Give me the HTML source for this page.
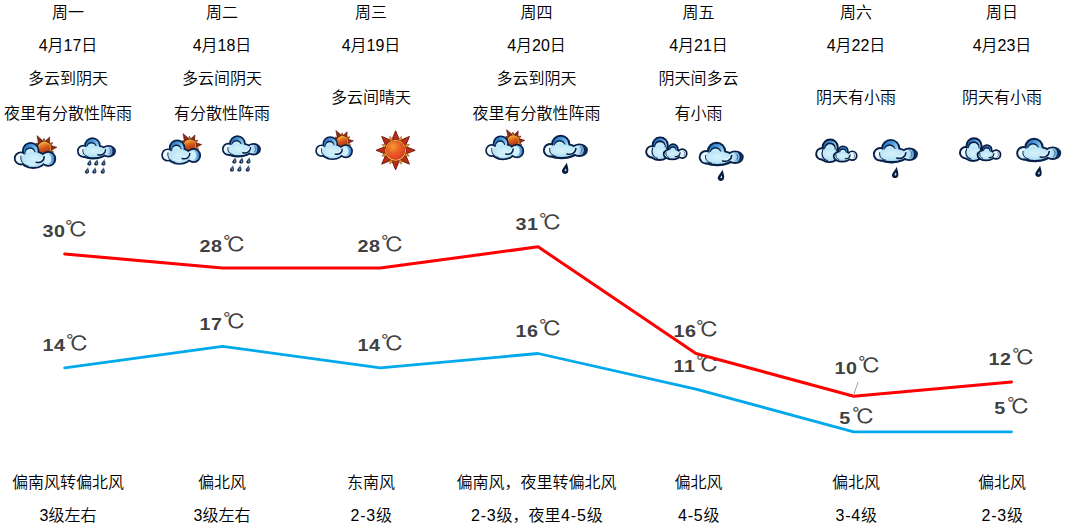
<!DOCTYPE html>
<html lang="zh-CN">
<head>
<meta charset="utf-8">
<title>一周天气预报</title>
<style>
html,body{margin:0;padding:0;background:#fff;}
body{width:1067px;height:530px;position:relative;overflow:hidden;font-family:"Liberation Sans","Noto Sans CJK SC",sans-serif;color:#000;}
.t{position:absolute;width:200px;height:24px;line-height:24px;font-size:16px;font-weight:350;text-align:center;white-space:nowrap;}
.n{letter-spacing:.8px;margin-left:.6px;}
.lb{position:absolute;width:100px;height:30px;line-height:30px;text-align:center;white-space:nowrap;color:#404040;}
.lb b{font-family:"Liberation Sans",sans-serif;font-weight:bold;font-size:17px;letter-spacing:.6px;display:inline-block;transform:scaleX(1.16);margin:0 1.8px 0 1.6px;}
.lb i{font-style:normal;font-family:"Liberation Sans","IPAGothic",sans-serif;font-size:20.5px;font-weight:normal;position:relative;top:-.2px;display:inline-block;transform:scaleX(1.12);transform-origin:0 50%;margin-right:2.2px;}
svg{position:absolute;left:0;top:0;z-index:2;}
</style>
</head>
<body>
<svg width="1067" height="530" viewBox="0 0 1067 530">
<defs>
<linearGradient id="tb" x1="0" y1="0" x2="1" y2=".5">
  <stop offset="0" stop-color="#1f6dbb"/><stop offset=".5" stop-color="#4a98d8"/><stop offset="1" stop-color="#a4d8f2"/>
</linearGradient>
<linearGradient id="sg2" x1=".3" y1="0" x2=".7" y2="1">
  <stop offset="0" stop-color="#f4ae30"/><stop offset=".4" stop-color="#dc5a1e"/><stop offset="1" stop-color="#9a2812"/>
</linearGradient>
<linearGradient id="rl" x1="1" y1="0" x2="0" y2="0">
  <stop offset="0" stop-color="#2e7fcc"/><stop offset=".45" stop-color="#a9d6f2"/><stop offset="1" stop-color="#f4fbfe"/>
</linearGradient>
<linearGradient id="sdg" x1="0" y1="0" x2="0" y2="1"><stop offset="0" stop-color="#8fa9c4"/><stop offset=".45" stop-color="#28486e"/><stop offset="1" stop-color="#071c3c"/></linearGradient>
<radialGradient id="bd" cx=".5" cy=".45" r=".6">
  <stop offset="0" stop-color="#d6f1fb"/><stop offset=".6" stop-color="#bfe8f7"/><stop offset="1" stop-color="#a8dcf2"/>
</radialGradient>
<radialGradient id="sg" cx=".36" cy=".30" r=".8">
  <stop offset="0" stop-color="#f59c2c"/><stop offset=".5" stop-color="#ea5a28"/><stop offset="1" stop-color="#e03322"/>
</radialGradient>

<!-- rain-type cloud, outer size 45 x 24.5 -->
<g id="cloudB">
  <g fill="#07204a" stroke="#07204a" stroke-width="3.8">
    <ellipse cx="36.4" cy="15.4" rx="6.7" ry="4.9"/>
    <circle cx="17.8" cy="9.6" r="7.7"/>
    <circle cx="7.2" cy="15.4" r="5.3"/>
    <ellipse cx="18.6" cy="16.1" rx="15" ry="6.5"/>
  </g>
  <ellipse cx="36.4" cy="15.4" rx="6.7" ry="4.9" fill="url(#rl)"/>
  <path d="M38.6 10.8 C44.6 12.4 44.6 18.4 38.6 20 C42 17.8 42 13 38.6 10.8 Z" fill="#07204a"/>
  <path d="M36.8 11.6 C39.6 13.2 39.6 17.4 36.6 19.2" fill="none" stroke="#07204a" stroke-width=".7" opacity=".7"/>
  <circle cx="17.8" cy="9.6" r="7.7" fill="url(#tb)"/>
  <circle cx="16.8" cy="11.2" r="5.9" fill="#07204a"/>
  <circle cx="16.8" cy="12" r="5.2" fill="#c6ebf8"/>
  <circle cx="7.2" cy="15.4" r="5.3" fill="#dff3fb"/>
  <ellipse cx="18.6" cy="15.8" rx="15" ry="6.3" fill="url(#bd)"/>
  <path d="M3.2 15 C3.2 11.8 6 10.4 9.5 10.8 C6.6 12.2 5.4 15 6.8 18.8 C4.6 18.4 3.2 17 3.2 15 Z" fill="#f2fafd"/>
  <path d="M6.8 13.6 C6 17.4 8.5 20.4 13 21.4" fill="none" stroke="#07204a" stroke-width="1" stroke-linecap="round"/>
  <path d="M24 19.2 C28.5 20.3 32.6 18.2 33 13.8" fill="none" stroke="#07204a" stroke-width="1.6" stroke-linecap="round"/>
  <path d="M25.5 17.5 C28.3 18.1 30.6 16.8 31 14.4" fill="none" stroke="#f4fbfe" stroke-width=".9" stroke-linecap="round"/>
</g>

<!-- single big drop 6.5 x 11 -->
<g id="drop">
  <path d="M4.7 0 C5.3 3.4 6.9 6.2 6 8.9 C5.2 11.4 1.1 11.6 .2 9.1 C-.6 6.6 3 3.8 4.7 0 Z" fill="#061a3a"/>
  <path d="M3.9 5.4 C4.2 6.4 4.5 7.2 4.2 7.9 C3.9 8.6 2.9 8.6 2.6 7.9 C2.4 7.2 3.3 6.4 3.9 5.4 Z" fill="#b8e2f4"/>
</g>
<!-- small hook drop 4 x 5.6 -->
<g id="sd">
  <path d="M2.8 0 C3.1 1.9 4 3.2 3.6 4.5 C3.1 5.9 .8 6 .3 4.7 C-.1 3.5 1.9 2.2 2.8 0 Z" fill="url(#sdg)"/>
  <path d="M2.5 2.6 C2.7 3.4 2.9 3.9 2.6 4.4 C2.3 4.8 1.6 4.6 1.6 4 C1.6 3.5 2.2 3.2 2.5 2.6 Z" fill="#9dbbd6" opacity=".8"/>
</g>

<symbol id="lr" width="46" height="42" viewBox="0 0 46 42" overflow="visible">
  <use href="#cloudB"/>
  <g transform="translate(19 27.8) scale(1.04)"><use href="#drop"/></g>
</symbol>
<symbol id="sh" width="40" height="36" viewBox="0 0 40 36" overflow="visible">
  <g transform="scale(.866 .91)"><use href="#cloudB"/></g>
  <g transform="translate(10 21.6) scale(1.2)"><use href="#sd"/></g>
  <g transform="translate(16.9 21.6) scale(1.2)"><use href="#sd"/></g>
  <g transform="translate(24.1 21.6) scale(1.2)"><use href="#sd"/></g>
  <g transform="translate(7.6 29.6) scale(1.2)"><use href="#sd"/></g>
  <g transform="translate(15 29.6) scale(1.2)"><use href="#sd"/></g>
  <g transform="translate(23.4 29.6) scale(1.2)"><use href="#sd"/></g>
</symbol>

<!-- overcast: two clouds, 42.3 x 24.6 -->
<symbol id="ov" width="43" height="25" viewBox="0 0 43 25" overflow="visible">
  <g fill="#061a42" stroke="#061a42" stroke-width="3.8">
    <circle cx="14.9" cy="8.5" r="6.6"/>
    <circle cx="6.5" cy="15.4" r="4.7"/>
    <ellipse cx="14" cy="16.1" rx="8.8" ry="6.6"/>
  </g>
  <circle cx="14.9" cy="8.5" r="6.6" fill="url(#tb)"/>
  <circle cx="14.7" cy="9.6" r="5.7" fill="#061a42"/>
  <circle cx="14.7" cy="10.6" r="4.8" fill="#c6ebf8"/>
  <circle cx="6.5" cy="15.4" r="4.7" fill="#e4f5fb"/>
  <ellipse cx="14" cy="16.1" rx="8.8" ry="6.6" fill="url(#bd)"/>
  <path d="M7.4 11.6 C5.4 16 7.5 20.8 12 22" fill="none" stroke="#061a42" stroke-width="1.1" stroke-linecap="round"/>
  <path d="M3.2 15.6 C3.2 13 4.6 11.6 6.8 11.4 C5.4 13.4 5 16.4 6.2 19 C4.4 18.6 3.2 17.4 3.2 15.6 Z" fill="#f4fbfe"/>
  <g fill="#061a42" stroke="#061a42" stroke-width="3.4">
    <circle cx="37" cy="17.2" r="3.6"/>
    <circle cx="27.8" cy="12.5" r="3.9"/>
    <ellipse cx="27" cy="17.8" rx="7.8" ry="4.4"/>
  </g>
  <circle cx="37" cy="17.2" r="3.6" fill="#e9f6fc"/>
  <path d="M38.2 14.6 C40 16.2 39.8 18.6 38 20" fill="none" stroke="#061a42" stroke-width=".7" opacity=".7"/>
  <circle cx="27.8" cy="12.5" r="3.9" fill="#3c8bd2"/>
  <circle cx="27.6" cy="13.2" r="3.4" fill="#061a42"/>
  <circle cx="27.6" cy="14" r="2.7" fill="#c6ebf8"/>
  <ellipse cx="27" cy="17.8" rx="7.8" ry="4.4" fill="url(#bd)"/>
  <path d="M30 20.2 C32.8 20.5 34.6 18.9 34.8 16.4" fill="none" stroke="#061a42" stroke-width="1.2" stroke-linecap="round"/>
  <path d="M20.6 16.2 C20.2 18.4 21.4 20.2 23.6 21" fill="none" stroke="#061a42" stroke-width=".8" stroke-linecap="round"/>
</symbol>

<g id="sunrays">
  <g fill="#b92c18" stroke="#6e1608" stroke-width=".9" stroke-linejoin="round">
    <path id="ry" d="M0 -19.6 L4.3 -9 L-4.3 -9 Z"/>
    <use href="#ry" transform="rotate(45)"/><use href="#ry" transform="rotate(90)"/><use href="#ry" transform="rotate(135)"/>
    <use href="#ry" transform="rotate(180)"/><use href="#ry" transform="rotate(225)"/><use href="#ry" transform="rotate(270)"/><use href="#ry" transform="rotate(315)"/>
  </g>
  <g fill="#e8a428" stroke="#8a3a10" stroke-width=".5">
    <path id="rz" d="M0 -15 L1.9 -10 L-1.9 -10 Z" transform="rotate(22.5)"/>
    <use href="#rz" transform="rotate(45)"/><use href="#rz" transform="rotate(90)"/><use href="#rz" transform="rotate(135)"/>
    <use href="#rz" transform="rotate(180)"/><use href="#rz" transform="rotate(225)"/><use href="#rz" transform="rotate(270)"/><use href="#rz" transform="rotate(315)"/>
  </g>
</g>
<g id="sunfull">
  <use href="#sunrays"/>
  <circle r="10.9" fill="#7a1c0a"/>
  <circle r="10.4" fill="#f7cc58"/>
  <circle r="9.5" fill="#b8401a"/>
  <circle r="9.2" fill="url(#sg)"/>
</g>
<symbol id="sun" width="40" height="40" viewBox="-20 -20 40 40" overflow="visible">
  <use href="#sunfull"/>
</symbol>

<!-- cloud + sun, 42.4 x 33.6 -->
<symbol id="cs" width="43" height="34" viewBox="0 0 43 34" overflow="visible">
  <g transform="translate(30.6 13.4) scale(.64)">
    <g fill="#8c2a14" stroke="#5a1206" stroke-width=".9" stroke-linejoin="round">
      <use href="#ry" transform="rotate(-30) scale(1 1.17)"/><use href="#ry" transform="rotate(25)"/><use href="#ry" transform="rotate(85)"/>
      <use href="#ry" transform="rotate(-88)"/><use href="#ry" transform="rotate(140)"/>
      <use href="#ry" transform="rotate(-3) scale(.9 .8)"/><use href="#ry" transform="rotate(55) scale(.9 .8)"/><use href="#ry" transform="rotate(112) scale(.9 .8)"/><use href="#ry" transform="rotate(-58) scale(.9 .8)"/>
    </g>
    <g fill="#d89a26" stroke="#7a3410" stroke-width=".5">
      <use href="#rz" transform="rotate(-26.5)"/><use href="#rz" transform="rotate(33.5)"/><use href="#rz" transform="rotate(89.5)"/>
    </g>
    <circle r="10.9" fill="#6a1a08"/>
    <circle r="10.3" fill="#f3c44e"/>
    <circle r="9.3" fill="url(#sg2)"/>
  </g>
  <g fill="#07204a" stroke="#07204a" stroke-width="3.6">
    <circle cx="34.5" cy="23.9" r="6.1"/>
    <circle cx="16.9" cy="15.8" r="7"/>
    <circle cx="7" cy="23.4" r="5.2"/>
    <ellipse cx="19.4" cy="24.6" rx="11.6" ry="7.5"/>
  </g>
  <circle cx="34.5" cy="23.9" r="6.1" fill="url(#rl)"/>
  <circle cx="32.5" cy="23.9" r="4.9" fill="#d4f0fa"/>
  <circle cx="16.9" cy="15.8" r="7" fill="url(#tb)"/>
  <circle cx="16.3" cy="17.6" r="5.4" fill="#07204a"/>
  <circle cx="16.3" cy="18.5" r="4.7" fill="#c6ebf8"/>
  <circle cx="7" cy="23.4" r="5.2" fill="#e4f5fb"/>
  <ellipse cx="19.4" cy="24.6" rx="11.6" ry="7.5" fill="url(#bd)"/>
  <path d="M3.2 22.8 C3.2 19.8 5.4 18.2 8.2 18.6 C6 20.2 5.6 23.6 7 27 C4.8 26.6 3.2 25 3.2 22.8 Z" fill="#f4fbfe"/>
  <path d="M7.2 21 C6.2 25.6 9 30 14.5 31.2" fill="none" stroke="#07204a" stroke-width="1" stroke-linecap="round"/>
  <path d="M22.4 27.2 C26.8 28.2 30.4 25.8 30.4 21.8" fill="none" stroke="#07204a" stroke-width="1.6" stroke-linecap="round"/>
  <path d="M23.6 25.3 C26.2 25.9 28.4 24.6 28.6 22.4" fill="none" stroke="#f4fbfe" stroke-width="1" stroke-linecap="round"/>
  <path d="M13 27.5 C15 29.2 18.5 29.8 21.5 29.2" fill="none" stroke="#f4fbfe" stroke-width="1" stroke-linecap="round" opacity=".8"/>
</symbol>
</defs>
<polyline points="64.7,253.9 222.5,268.1 380.3,268.1 538.1,246.8 695.9,353.5 853.7,396.2 1011.5,382.0" fill="none" stroke="#ff0000" stroke-width="3" stroke-linejoin="round" stroke-linecap="round"/>
<polyline points="64.7,367.8 222.5,346.4 380.3,367.8 538.1,353.5 695.9,389.1 853.7,431.8 1011.5,431.8" fill="none" stroke="#00a8ec" stroke-width="2.8" stroke-linejoin="round" stroke-linecap="round"/>
<line x1="858.1" y1="381.7" x2="853.5" y2="395.6" stroke="#a6a6a6" stroke-width="1"/>
<use href="#cs" x="13.8" y="135" width="43" height="34"/>
<use href="#sh" x="77" y="137.2" width="40" height="36"/>
<use href="#cs" x="161.2" y="133" width="40.42" height="31.96"/>
<use href="#sh" x="222" y="135.2" width="40" height="36"/>
<use href="#cs" x="315.2" y="129.9" width="38.27" height="30.26"/>
<use href="#sun" x="375.6" y="130.3" width="40" height="40"/>
<use href="#cs" x="485.2" y="129" width="39.56" height="31.28"/>
<use href="#lr" x="542.9" y="134.8" width="46" height="42"/>
<use href="#ov" x="645.3" y="136.4" width="43" height="25"/>
<use href="#lr" x="698.7" y="141.8" width="46" height="42"/>
<use href="#ov" x="815.3" y="138.5" width="43" height="25"/>
<use href="#lr" x="872.9" y="138.9" width="46" height="42"/>
<use href="#ov" x="959.1" y="137.3" width="43" height="25"/>
<use href="#lr" x="1016.2" y="137.8" width="46" height="42"/>
</svg>
<div class="t" style="left:-32px;top:0.7px">周一</div>
<div class="t" style="left:-32px;top:34px">4月17日</div>
<div class="t" style="left:-32px;top:66.7px">多云到阴天</div>
<div class="t" style="left:-32px;top:101.5px">夜里有分散性阵雨</div>
<div class="t" style="left:-32px;top:470.5px">偏南风转偏北风</div>
<div class="t" style="left:-32px;top:503.5px">3级左右</div>
<div class="t" style="left:122px;top:0.7px">周二</div>
<div class="t" style="left:122px;top:34px">4月18日</div>
<div class="t" style="left:122px;top:66.7px">多云间阴天</div>
<div class="t" style="left:122px;top:101.5px">有分散性阵雨</div>
<div class="t" style="left:122px;top:470.5px">偏北风</div>
<div class="t" style="left:122px;top:503.5px">3级左右</div>
<div class="t" style="left:271px;top:0.7px">周三</div>
<div class="t" style="left:271px;top:34px">4月19日</div>
<div class="t" style="left:271px;top:86px">多云间晴天</div>
<div class="t" style="left:271px;top:470.5px">东南风</div>
<div class="t" style="left:271px;top:503.5px"><span class="n">2-3</span>级</div>
<div class="t" style="left:436.5px;top:0.7px">周四</div>
<div class="t" style="left:436.5px;top:34px">4月20日</div>
<div class="t" style="left:436.5px;top:66.7px">多云到阴天</div>
<div class="t" style="left:436.5px;top:101.5px">夜里有分散性阵雨</div>
<div class="t" style="left:436.5px;top:470.5px">偏南风，夜里转偏北风</div>
<div class="t" style="left:436.5px;top:503.5px"><span class="n">2-3</span>级，夜里<span class="n">4-5</span>级</div>
<div class="t" style="left:598.5px;top:0.7px">周五</div>
<div class="t" style="left:598.5px;top:34px">4月21日</div>
<div class="t" style="left:598.5px;top:66.7px">阴天间多云</div>
<div class="t" style="left:598.5px;top:101.5px">有小雨</div>
<div class="t" style="left:598.5px;top:470.5px">偏北风</div>
<div class="t" style="left:598.5px;top:503.5px"><span class="n">4-5</span>级</div>
<div class="t" style="left:756px;top:0.7px">周六</div>
<div class="t" style="left:756px;top:34px">4月22日</div>
<div class="t" style="left:756px;top:86px">阴天有小雨</div>
<div class="t" style="left:756px;top:470.5px">偏北风</div>
<div class="t" style="left:756px;top:503.5px"><span class="n">3-4</span>级</div>
<div class="t" style="left:902px;top:0.7px">周日</div>
<div class="t" style="left:902px;top:34px">4月23日</div>
<div class="t" style="left:902px;top:86px">阴天有小雨</div>
<div class="t" style="left:902px;top:470.5px">偏北风</div>
<div class="t" style="left:902px;top:503.5px"><span class="n">2-3</span>级</div>
<div class="lb" style="left:15.05px;top:214.8px"><b>30</b><i>℃</i></div>
<div class="lb" style="left:172.5px;top:229.7px"><b>28</b><i>℃</i></div>
<div class="lb" style="left:330.5px;top:229.7px"><b>28</b><i>℃</i></div>
<div class="lb" style="left:488.1px;top:207.7px"><b>31</b><i>℃</i></div>
<div class="lb" style="left:646.05px;top:314.9px"><b>16</b><i>℃</i></div>
<div class="lb" style="left:807.8px;top:351.6px"><b>10</b><i>℃</i></div>
<div class="lb" style="left:961.65px;top:342.9px"><b>12</b><i>℃</i></div>
<div class="lb" style="left:15.2px;top:328.8px"><b>14</b><i>℃</i></div>
<div class="lb" style="left:172.6px;top:307.5px"><b>17</b><i>℃</i></div>
<div class="lb" style="left:330.6px;top:328.8px"><b>14</b><i>℃</i></div>
<div class="lb" style="left:488.2px;top:314.6px"><b>16</b><i>℃</i></div>
<div class="lb" style="left:646.05px;top:350.4px"><b>11</b><i>℃</i></div>
<div class="lb" style="left:806.7px;top:402.3px"><b>5</b><i>℃</i></div>
<div class="lb" style="left:961.25px;top:392.3px"><b>5</b><i>℃</i></div>
</body>
</html>
